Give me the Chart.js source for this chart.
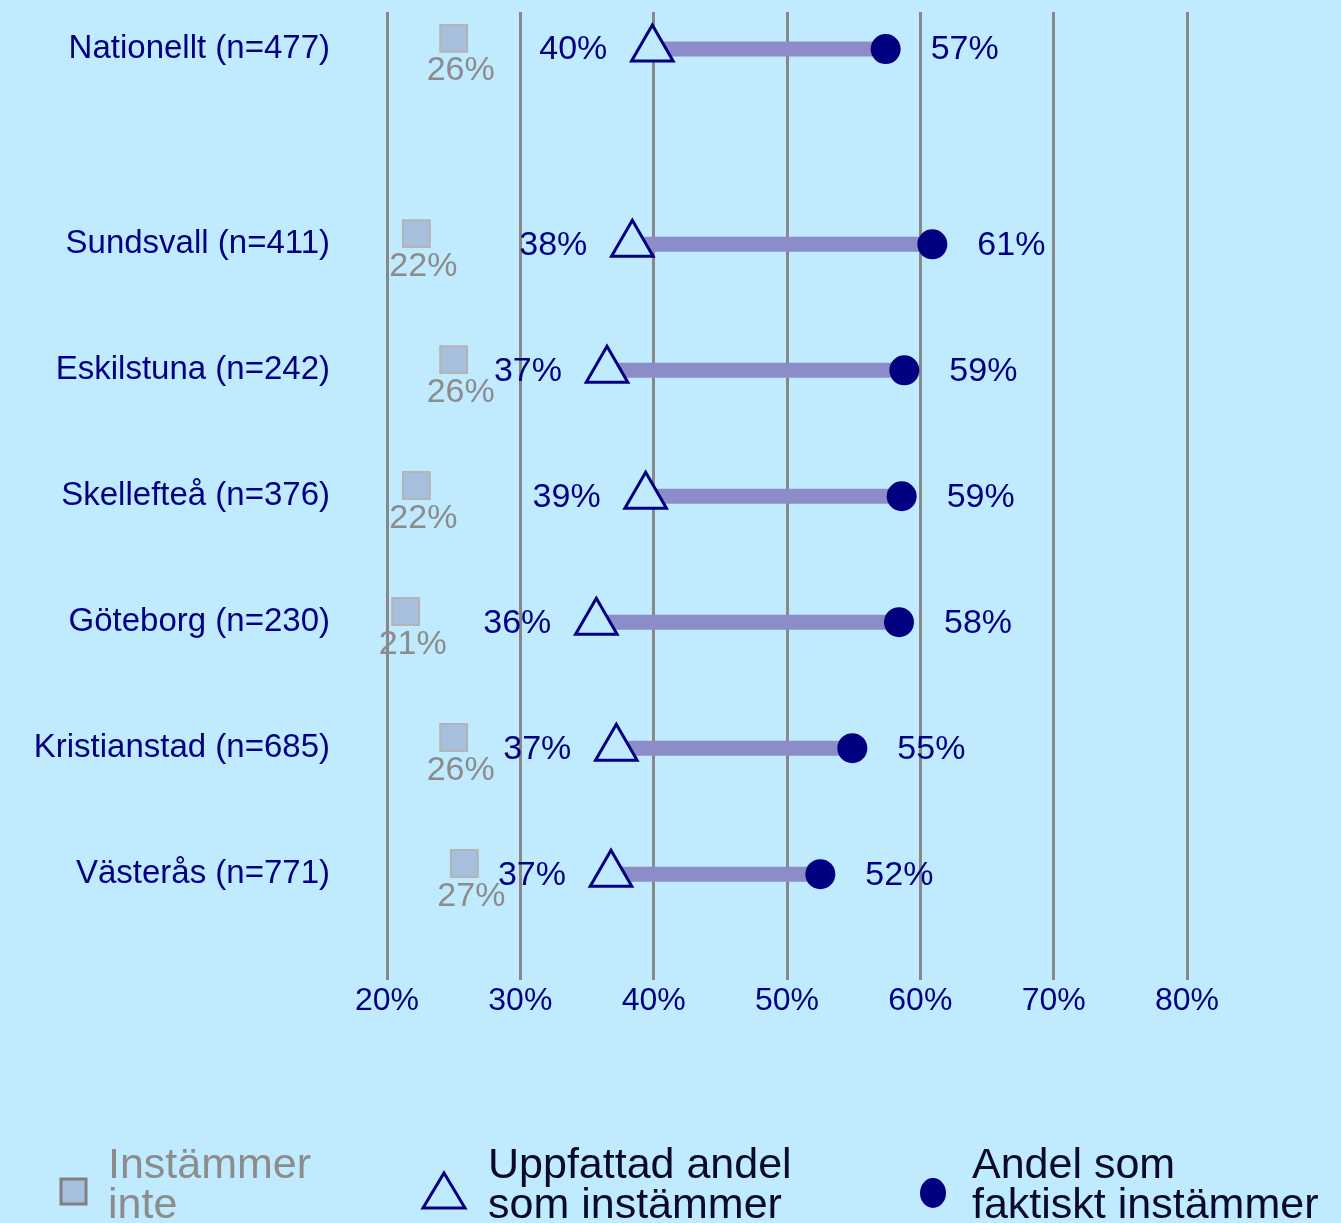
<!DOCTYPE html>
<html>
<head>
<meta charset="utf-8">
<script src="https://cdn.jsdelivr.net/npm/chart.js@4.4.1/dist/chart.umd.min.js"></script>
<style>
  html, body { margin: 0; padding: 0; background: #c0ebff; }
</style>
</head>
<body>
<canvas id="Chart01" width="1341" height="1223"></canvas>
<script>
/* Data */
const regions = ['Nationellt (n=477)', 'Sundsvall (n=411)', 'Eskilstuna (n=242)', 'Skellefteå (n=376)',
                 'Göteborg (n=230)', 'Kristianstad (n=685)', 'Västerås (n=771)'];
const rowPos = [0, 1.55, 2.55, 3.55, 4.55, 5.55, 6.55]; // Nationellt sits apart from the cities
const notAgree = [25.0, 22.2, 25.0, 22.2, 21.4, 25.0, 25.8];
const notAgreeText = ['26%', '22%', '26%', '22%', '21%', '26%', '27%'];
const perceived = [39.9, 38.4, 36.5, 39.4, 35.7, 37.2, 36.8];
const perceivedText = ['40%', '38%', '37%', '39%', '36%', '37%', '37%'];
const actual = [57.4, 60.9, 58.8, 58.6, 58.4, 54.9, 52.5];
const actualText = ['57%', '61%', '59%', '59%', '58%', '55%', '52%'];
const xTicks = [20, 30, 40, 50, 60, 70, 80];
const legendLabels = [['Instämmer', 'inte'], ['Uppfattad andel', 'som instämmer'], ['Andel som', 'faktiskt instämmer']];

const navy = '#000080';
const grey = '#8c8c8c';
const bg = '#c0ebff';
const font = '"Liberation Sans", Arial, sans-serif';
const squareLift = 0.085; // square marker sits slightly above the row

/* Datasets */
const datasets = [];
for (let i = 0; i < regions.length; i++) {
  datasets.push({
    type: 'line',
    data: [{x: perceived[i], y: rowPos[i]}, {x: actual[i], y: rowPos[i]}],
    borderColor: '#8c8cc8',
    borderWidth: 15,
    pointRadius: 0,
    order: 5
  });
}
datasets.push({
  type: 'scatter',
  data: notAgree.map((v, i) => ({x: v, y: rowPos[i] - squareLift})),
  pointStyle: 'rect',
  pointRadius: 19,
  backgroundColor: '#a6bfdc',
  borderColor: '#b4b4b4',
  borderWidth: 2,
  order: 1
});
datasets.push({
  type: 'scatter',
  data: perceived.map((v, i) => ({x: v, y: rowPos[i]})),
  pointStyle: 'triangle',
  pointRadius: 24,
  backgroundColor: bg,
  borderColor: navy,
  borderWidth: 3,
  order: 1
});
datasets.push({
  type: 'scatter',
  data: actual.map((v, i) => ({x: v, y: rowPos[i]})),
  pointStyle: 'circle',
  pointRadius: 15,
  backgroundColor: navy,
  borderColor: navy,
  borderWidth: 0,
  order: 1
});

/* Value labels */
const valueLabels = {
  id: 'valueLabels',
  afterDatasetsDraw(chart) {
    const c = chart.ctx, xs = chart.scales.x, ys = chart.scales.y;
    c.save();
    c.font = '34px ' + font;
    c.textBaseline = 'middle';
    for (let i = 0; i < regions.length; i++) {
      const y = ys.getPixelForValue(rowPos[i]);
      c.fillStyle = grey;
      c.textAlign = 'center';
      c.fillText(notAgreeText[i], xs.getPixelForValue(notAgree[i]) + 7, y + 22);
      c.fillStyle = navy;
      c.textAlign = 'right';
      c.fillText(perceivedText[i], xs.getPixelForValue(perceived[i]) - 45, y + 1);
      c.textAlign = 'left';
      c.fillText(actualText[i], xs.getPixelForValue(actual[i]) + 45, y + 1);
    }
    c.restore();
  }
};

/* Legend at the bottom */
const bottomLegend = {
  id: 'bottomLegend',
  afterDraw(chart) {
    const c = chart.ctx;
    c.save();
    // square
    c.fillStyle = '#a6bfdc';
    c.fillRect(61, 1179, 25, 25);
    c.strokeStyle = '#808080';
    c.lineWidth = 3;
    c.strokeRect(61, 1179, 25, 25);
    // triangle
    c.beginPath();
    c.moveTo(444, 1173);
    c.lineTo(465, 1208);
    c.lineTo(423, 1208);
    c.closePath();
    c.strokeStyle = navy;
    c.lineWidth = 3;
    c.stroke();
    // circle
    c.beginPath();
    c.ellipse(933, 1193, 13, 15, 0, 0, Math.PI * 2);
    c.fillStyle = navy;
    c.fill();

    c.font = '43px ' + font;
    c.textBaseline = 'middle';
    c.textAlign = 'left';
    const xs = [108, 488, 972];
    const cols = [grey, '#0a0a30', '#0a0a30'];
    legendLabels.forEach((lines, k) => {
      c.fillStyle = cols[k];
      c.fillText(lines[0], xs[k], 1166);
      c.fillText(lines[1], xs[k], 1206);
    });
    c.restore();
  }
};

/* Chart */
const config01 = {
  type: 'scatter',
  data: {datasets: datasets},
  options: {
    responsive: false,
    animation: false,
    clip: false,
    layout: {autoPadding: false, padding: {top: 12, right: 154, left: 0, bottom: 0}},
    plugins: {legend: {display: false}, tooltip: {enabled: false}},
    scales: {
      x: {
        type: 'linear', min: 20, max: 80,
        afterBuildTicks: (s) => { s.ticks = xTicks.map(v => ({value: v})); },
        afterFit: (s) => { s.height = 243; s.paddingLeft = 0; s.paddingRight = 0; },
        ticks: {color: navy, font: {family: font, size: 32}, padding: 2,
                callback: (v) => v + '%'},
        grid: {color: '#888888', lineWidth: 3, drawTicks: false},
        border: {display: false}
      },
      y: {
        type: 'linear', reverse: true, min: -0.294, max: 7.39,
        afterBuildTicks: (s) => { s.ticks = rowPos.map(v => ({value: v})); },
        afterFit: (s) => { s.width = 387; s.paddingTop = 0; s.paddingBottom = 0; },
        ticks: {color: navy, font: {family: font, size: 33}, padding: 57,
                callback: (v) => regions[rowPos.indexOf(v)]},
        grid: {display: false, drawTicks: false},
        border: {display: false}
      }
    }
  },
  plugins: [valueLabels, bottomLegend]
};

const ctxch01 = document.getElementById('Chart01');
new Chart(ctxch01, config01);
</script>
</body>
</html>
